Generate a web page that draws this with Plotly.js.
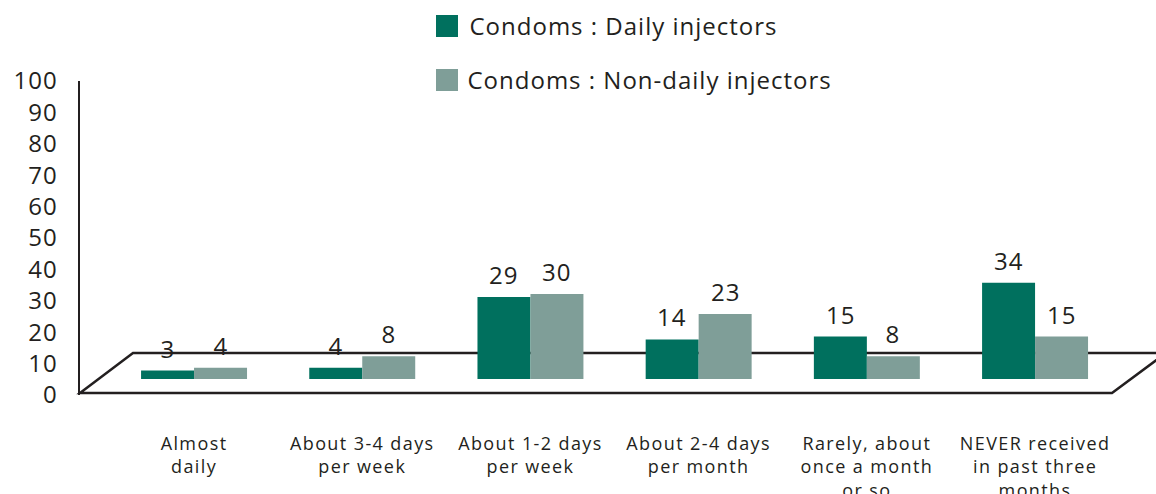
<!DOCTYPE html>
<html>
<head>
<meta charset="utf-8">
<script src="https://cdn.plot.ly/plotly-3.0.1.min.js"></script>
<style>
  html, body { margin: 0; padding: 0; background: #fff; }
  #chart { width: 1156px; height: 494px; }
  #chart text { letter-spacing: 1px; }
  #chart .xtick text { letter-spacing: 1.4px; }
</style>
</head>
<body>
<div id="chart"></div>
<script>
// ---- data ----
const categories = [
  'Almost<br>daily',
  'About 3-4 days<br>per week',
  'About 1-2 days<br>per week',
  'About 2-4 days<br>per month',
  'Rarely, about<br>once a month<br>or so',
  'NEVER received<br>in past three<br>months'
];
const seriesNames = ['Condoms : Daily injectors', 'Condoms : Non-daily injectors'];
const dailyValues = [3, 4, 29, 14, 15, 34];
const nonDailyValues = [4, 8, 30, 23, 8, 15];
const yTicks = [0, 10, 20, 30, 40, 50, 60, 70, 80, 90, 100];

// ---- styling ----
const colors = ['#00705e', '#7f9e98'];
const ink = '#231f20';
const font = 'Open Sans, Noto Sans, sans-serif';

const W = 1156, H = 494;
const M = { l: 80, r: 0, t: 81, b: 99 };
const plotW = W - M.l - M.r, plotH = H - M.t - M.b;
const px = x => (x - M.l) / plotW;      // pixel -> paper x
const py = y => (H - M.b - y) / plotH;  // pixel -> paper y

const bargap = 0.37;
const barW = (1 - bargap) / 2;
const seriesValues = [dailyValues, nonDailyValues];

const traces = seriesValues.map((vals, i) => ({
  type: 'bar',
  name: seriesNames[i],
  x: categories,
  y: vals,
  yaxis: 'y2',
  marker: { color: colors[i], line: { width: 0 } },
  hoverinfo: 'x+y',
  showlegend: false
}));
// empty trace so that the tick axis (y) is drawn
traces.unshift({ type: 'scatter', x: [], y: [], yaxis: 'y', xaxis: 'x', hoverinfo: 'skip', showlegend: false });

// floor (pseudo 3D base), drawn under bars
const floorPts = [[80, 393], [133, 353], [1166, 353], [1112, 393]];
const floorPath = 'M' + floorPts.map(p => px(p[0]) + ',' + py(p[1])).join(' L') + ' Z';

const shapes = [{
  type: 'path', xref: 'paper', yref: 'paper', path: floorPath,
  line: { color: ink, width: 2.5 }, fillcolor: 'rgba(0,0,0,0)', layer: 'below'
}];
const annotations = [];

// value labels above bars
seriesValues.forEach((vals, s) => {
  const off = (s - 0.5) * barW;
  vals.forEach((v, i) => {
    annotations.push({
      xref: 'x', yref: 'y2', x: i + off, y: v,
      xanchor: 'center', yanchor: 'bottom', yshift: 4, showarrow: false,
      text: String(v), font: { family: font, size: 24, color: ink }
    });
  });
});

// manual legend
const legendRows = [26, 80];
seriesNames.forEach((name, i) => {
  const cy = legendRows[i];
  shapes.push({
    type: 'rect', xref: 'paper', yref: 'paper',
    x0: px(436), x1: px(458), y0: py(cy + 11), y1: py(cy - 11),
    fillcolor: colors[i], line: { width: 0 }
  });
  annotations.push({
    xref: 'paper', yref: 'paper', x: px(480), y: py(cy),
    xanchor: 'left', yanchor: 'middle', showarrow: false,
    text: name, font: { family: font, size: 24, color: ink }
  });
});

const layout = {
  width: W, height: H,
  margin: M,
  paper_bgcolor: '#fff', plot_bgcolor: 'rgba(0,0,0,0)',
  barmode: 'group', bargap: bargap, bargroupgap: 0,
  showlegend: false,
  xaxis: {
    type: 'category',
    range: [-0.678, 5.719],
    showline: false, showgrid: false, zeroline: false,
    ticks: '', ticklabelstandoff: 36,
    tickfont: { family: font, size: 18, color: ink },
    fixedrange: true
  },
  yaxis: {
    range: [0, 100],
    tickvals: yTicks,
    showline: true, linecolor: ink, linewidth: 2.5,
    showgrid: false, zeroline: false,
    ticks: '', ticklabelstandoff: 15,
    tickfont: { family: font, size: 24, color: ink },
    fixedrange: true
  },
  yaxis2: {
    overlaying: 'y', range: [-5.65, 105.3], visible: false, fixedrange: true
  },
  shapes: shapes,
  annotations: annotations
};

Plotly.newPlot('chart', traces, layout, { displayModeBar: false, staticPlot: true });
</script>
</body>
</html>
